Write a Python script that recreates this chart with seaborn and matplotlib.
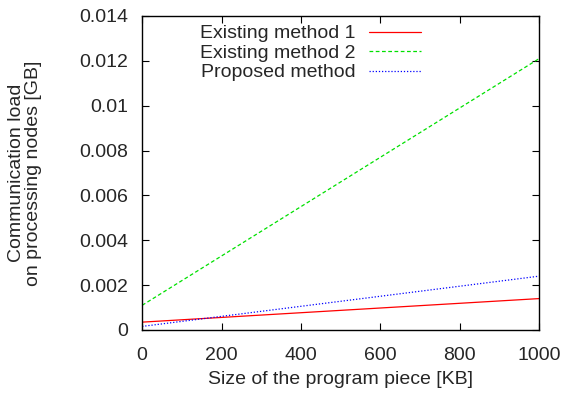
import matplotlib
matplotlib.use("Agg")
import matplotlib.pyplot as plt
import seaborn as sns
import pandas as pd
from matplotlib.ticker import FuncFormatter

# Data
x_kb = [0, 1000]
existing1 = [0.00035, 0.0014]
existing2 = [0.0011, 0.0121]
proposed = [0.00016, 0.0024]
series_names = ["Existing method 1", "Existing method 2", "Proposed method"]
x_ticks = [0, 200, 400, 600, 800, 1000]
y_ticks = [0, 0.002, 0.004, 0.006, 0.008, 0.010, 0.012, 0.014]

sns.set_style("ticks")
plt.rcParams['font.family'] = ['Liberation Sans', 'DejaVu Sans']
FS = 14
plt.rcParams['font.size'] = FS

df = pd.concat([
    pd.DataFrame({"x": x_kb, "y": vals, "series": name})
    for name, vals in zip(series_names, [existing1, existing2, proposed])
])

fig = plt.figure(figsize=(5.64, 3.96), dpi=100)
ax = fig.add_axes([0.252, 0.1667, 0.704, 0.793])

palette = {"Existing method 1": "#ff0000", "Existing method 2": "#00e000", "Proposed method": "#0000ff"}
styles = {"Existing method 1": "", "Existing method 2": (3, 2), "Proposed method": (1, 1.5)}
sns.lineplot(data=df, x="x", y="y", hue="series", style="series", palette=palette,
             dashes=styles, linewidth=0.9, ax=ax)

ax.set_xlim(0, 1000)
ax.set_ylim(0, 0.014)
ax.set_xticks(x_ticks)
ax.set_yticks(y_ticks)
ax.yaxis.set_major_formatter(FuncFormatter(lambda v, p: "%g" % round(v, 6)))
ax.tick_params(direction="in", length=5, width=0.8, top=True, right=True, labelsize=FS, color="black")
ax.tick_params(axis="x", pad=12.5)
ax.tick_params(axis="y", pad=10)
for s in ax.spines.values():
    s.set_visible(True)
    s.set_linewidth(1.0)
    s.set_color("black")

ax.set_xlabel("Size of the program piece [KB]", fontsize=FS, labelpad=5)
ax.set_ylabel("Communication load\non processing nodes [GB]", fontsize=FS, labelpad=27,
              linespacing=1.0)

leg = ax.legend(loc="upper right", bbox_to_anchor=(431 / 564, 1 - 15 / 396),
                bbox_transform=fig.transFigure, frameon=False, markerfirst=False,
                handlelength=2.7, labelspacing=0.1, handletextpad=0.7, borderpad=0.0,
                fontsize=FS)
for t in leg.get_texts():
    t.set_ha("right")
leg._legend_box.align = "right"

fig.savefig("out.png", dpi=100)
